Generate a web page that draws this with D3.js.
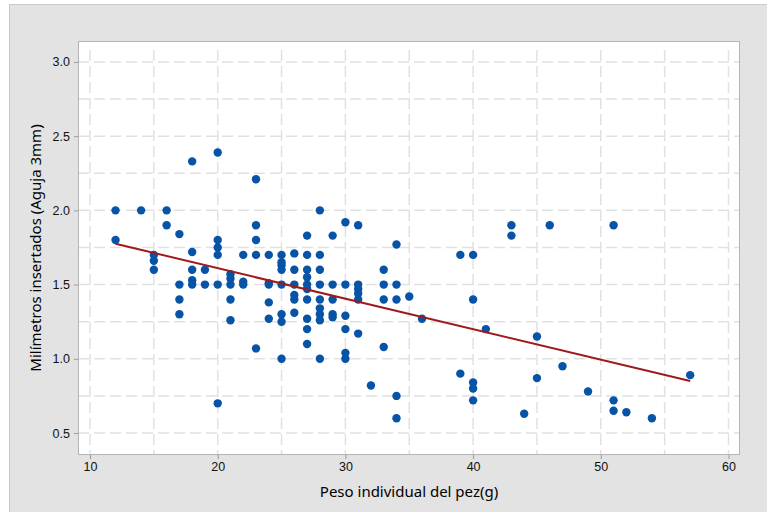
<!DOCTYPE html>
<html lang="es">
<head>
    <meta charset="UTF-8">
    <title>Milímetros insertados vs peso</title>
    <script src="https://d3js.org/d3.v7.min.js"></script>
    <style>
        body {
            margin: 0;
            background-color: #ffffff;
            font-family: "Noto Sans", "Open Sans", sans-serif;
        }
        .tick text {
            font-size: 12.5px;
            fill: #111;
        }
        .title {
            font-size: 15px;
            fill: #000;
        }
    </style>
</head>
<body>
    <script>
        const width = 767;
        const height = 512;
        const marginTop = 41;
        const marginRight = 27;
        const marginBottom = 57;
        const marginLeft = 78;

        // peso individual (g) for each fish
        const pesos = [
            12, 12, 14, 15, 15, 15, 16, 16,
            17, 17, 17, 17,
            18, 18, 18, 18, 18, 19, 19,
            20, 20, 20, 20, 20, 20,
            21, 21, 21, 21, 21, 22, 22, 22,
            23, 23, 23, 23, 23, 24, 24, 24, 24, 24,
            25, 25, 25, 25, 25, 25, 25, 25,
            26, 26, 26, 26, 26, 26,
            27, 27, 27, 27, 27, 27, 27, 27, 27, 27,
            28, 28, 28, 28, 28, 28, 28, 28, 28,
            29, 29, 29, 29, 29,
            30, 30, 30, 30, 30, 30,
            31, 31, 31, 31, 31, 31,
            32, 33, 33, 33, 33,
            34, 34, 34, 34, 34, 35, 36,
            39, 39, 40, 40, 40, 40, 40, 41,
            43, 43, 44, 45, 45, 46, 47, 49,
            51, 51, 51, 52, 54, 57
        ];
        // milímetros insertados (aguja 3mm), same order
        const milimetros = [
            2.0, 1.8, 2.0, 1.7, 1.66, 1.6, 2.0, 1.9,
            1.84, 1.5, 1.4, 1.3,
            2.33, 1.72, 1.6, 1.53, 1.5, 1.6, 1.5,
            2.39, 1.8, 1.75, 1.7, 1.5, 0.7,
            1.57, 1.54, 1.5, 1.4, 1.26, 1.7, 1.52, 1.5,
            2.21, 1.9, 1.8, 1.7, 1.07, 1.7, 1.51, 1.5, 1.38, 1.27,
            1.7, 1.65, 1.63, 1.6, 1.5, 1.3, 1.25, 1.0,
            1.71, 1.6, 1.5, 1.43, 1.4, 1.31,
            1.83, 1.7, 1.6, 1.55, 1.5, 1.47, 1.4, 1.27, 1.2, 1.1,
            2.0, 1.7, 1.6, 1.5, 1.4, 1.34, 1.3, 1.26, 1.0,
            1.83, 1.5, 1.4, 1.3, 1.28,
            1.92, 1.5, 1.29, 1.2, 1.04, 1.0,
            1.9, 1.5, 1.47, 1.44, 1.4, 1.17,
            0.82, 1.6, 1.5, 1.4, 1.08,
            1.77, 1.5, 1.4, 0.75, 0.6, 1.42, 1.27,
            1.7, 0.9, 1.7, 1.4, 0.84, 0.8, 0.72, 1.2,
            1.9, 1.83, 0.63, 1.15, 0.87, 1.9, 0.95, 0.78,
            1.9, 0.72, 0.65, 0.64, 0.6, 0.89
        ];

        // fitted line, ends
        const fitX = [12, 57];
        const fitY = [1.775, 0.85];

        const xTicks = [10, 20, 30, 40, 50, 60];
        const yTicks = [0.5, 1.0, 1.5, 2.0, 2.5, 3.0];
        const xGrid = d3.range(10, 61, 5);
        const yGrid = d3.range(0.5, 3.01, 0.25);

        const points = pesos.map((p, i) => ({x: p, y: milimetros[i]}));
        const fit = fitX.map((v, i) => ({x: v, y: fitY[i]}));

        const x = d3.scaleLinear()
                    .domain([9.06, 60.9])
                    .range([marginLeft, width - marginRight]);
        const y = d3.scaleLinear()
                    .domain([0.352, 3.141])
                    .range([height - marginBottom, marginTop]);

        const svg = d3.select("body").append("svg")
                      .attr("width", width)
                      .attr("height", height)
                      .attr("viewBox", [0, 0, width, height]);

        // grey outer panel
        svg.append("rect")
           .attr("x", 9.5).attr("y", 4.5)
           .attr("width", width).attr("height", height)
           .attr("fill", "#e3e3e3")
           .attr("stroke", "#c9c9c9");

        // plot area
        svg.append("rect")
           .attr("x", marginLeft).attr("y", marginTop)
           .attr("width", width - marginRight - marginLeft)
           .attr("height", height - marginBottom - marginTop)
           .attr("fill", "#ffffff");

        const grid = svg.append("g")
                        .attr("stroke", "#e1e1e1")
                        .attr("stroke-width", 1.5)
                        .attr("stroke-dasharray", "11,5");

        grid.selectAll("line.v")
            .data(xGrid)
            .join("line")
            .attr("class", "v")
            .attr("x1", d => x(d)).attr("x2", d => x(d))
            .attr("y1", marginTop + 9).attr("y2", height - marginBottom);

        grid.selectAll("line.h")
            .data(yGrid)
            .join("line")
            .attr("class", "h")
            .attr("y1", d => y(d)).attr("y2", d => y(d))
            .attr("x1", marginLeft).attr("x2", width - marginRight);

        svg.append("rect")
           .attr("x", marginLeft + 0.5).attr("y", marginTop + 0.5)
           .attr("width", width - marginRight - marginLeft - 1)
           .attr("height", height - marginBottom - marginTop - 1)
           .attr("fill", "none")
           .attr("stroke", "#b4b4b4");

        const xAxis = svg.append("g")
                         .attr("transform", `translate(0,${height - marginBottom})`)
                         .call(d3.axisBottom(x).tickValues(xTicks).tickSize(4).tickPadding(3));
        xAxis.select(".domain").remove();
        xAxis.selectAll(".tick line").attr("stroke", "#9a9a9a");

        const yAxis = svg.append("g")
                         .attr("transform", `translate(${marginLeft},0)`)
                         .call(d3.axisLeft(y).tickValues(yTicks).tickFormat(d3.format(".1f")).tickSize(4).tickPadding(4));
        yAxis.select(".domain").remove();
        yAxis.selectAll(".tick line").attr("stroke", "#9a9a9a");
        svg.selectAll(".tick text").attr("font-family", null);

        svg.append("g")
           .selectAll("circle")
           .data(points)
           .join("circle")
           .attr("cx", d => x(d.x))
           .attr("cy", d => y(d.y))
           .attr("r", 4.2)
           .attr("fill", "#0753a5");

        svg.append("path")
           .datum(fit)
           .attr("fill", "none")
           .attr("stroke", "#a0191c")
           .attr("stroke-width", 2)
           .attr("d", d3.line().x(d => x(d.x)).y(d => y(d.y)));

        svg.append("text")
           .attr("class", "title")
           .attr("x", (marginLeft + width - marginRight) / 2)
           .attr("y", 497)
           .attr("text-anchor", "middle")
           .text("Peso individual del pez(g)");

        svg.append("text")
           .attr("class", "title")
           .attr("transform", `translate(41,${(marginTop + height - marginBottom) / 2}) rotate(-90)`)
           .attr("text-anchor", "middle")
           .text("Milímetros insertados (Aguja 3mm)");
    </script>
</body>
</html>
